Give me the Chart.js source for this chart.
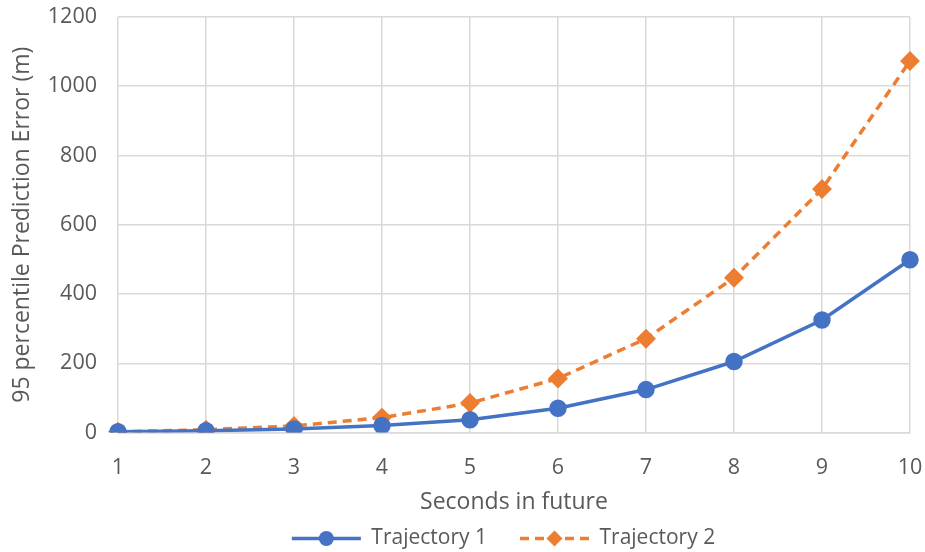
<!DOCTYPE html>
<html>
<head>
<meta charset="utf-8">
<script src="https://cdn.jsdelivr.net/npm/chart.js@4"></script>
<style>
  html, body { margin: 0; padding: 0; background: #fff; }
  #wrap { width: 925px; height: 552px; }
</style>
</head>
<body>
<div id="wrap"><canvas id="c" width="925" height="552"></canvas></div>
<script>
const seconds = ['1', '2', '3', '4', '5', '6', '7', '8', '9', '10'];
const trajectory1 = [2, 5, 10, 20, 37, 70, 124, 205, 325, 499];
const trajectory2 = [2, 8, 19, 43, 85, 156, 271, 447, 703, 1073];
const yTicks = [0, 200, 400, 600, 800, 1000, 1200];

const FONT = "'Open Sans', 'Liberation Sans', sans-serif";
const GREY = '#595959';

// legend sample: blank lead-in, then a 69px line with the marker centred on it
const LEGEND_LEAD = 29;
const LEGEND_LINE = 69;
const LEGEND_SHIFT = 34;

new Chart(document.getElementById('c'), {
  type: 'line',
  data: {
    labels: seconds,
    datasets: [
      {
        label: 'Trajectory 1',
        data: trajectory1,
        borderColor: '#4472C4',
        backgroundColor: '#4472C4',
        borderWidth: 3.5,
        pointStyle: 'circle',
        pointRadius: 7,
        pointHoverRadius: 7,
        tension: 0
      },
      {
        label: 'Trajectory 2',
        data: trajectory2,
        borderColor: '#ED7D31',
        backgroundColor: '#ED7D31',
        borderWidth: 3.5,
        borderDash: [9, 6],
        pointStyle: 'rectRot',
        pointRadius: 7.5,
        pointHoverRadius: 7.5,
        tension: 0
      }
    ]
  },
  options: {
    responsive: false,
    animation: false,
    layout: { padding: { top: 17, right: 15, left: 0, bottom: -7 } },
    plugins: {
      legend: {
        position: 'bottom',
        labels: {
          boxWidth: LEGEND_LEAD + LEGEND_LINE,
          boxHeight: 14,
          color: GREY,
          font: { family: FONT, size: 21 },
          padding: 4,
          generateLabels(chart) {
            return chart.data.datasets.map((ds, i) => ({
              text: ds.label,
              fillStyle: 'rgba(0,0,0,0)',
              strokeStyle: 'rgba(0,0,0,0)',
              lineWidth: 0,
              hidden: false,
              datasetIndex: i,
              fontColor: GREY
            }));
          }
        }
      },
      tooltip: { enabled: false }
    },
    scales: {
      x: {
        type: 'category',
        offset: false,
        grid: { color: '#d9d9d9', lineWidth: 1.5, drawTicks: false },
        border: { color: '#d9d9d9', width: 1.5 },
        ticks: { color: GREY, font: { family: FONT, size: 21.5 }, padding: 22, maxRotation: 0 },
        title: { display: true, text: 'Seconds in future', color: GREY, font: { family: FONT, size: 23 }, padding: { top: 0, bottom: 8 } },
        afterFit(axis) {
          axis.height = 91.5;
          axis.paddingLeft = 0;
          axis.paddingRight = 0;
        }
      },
      y: {
        min: 0,
        max: 1200,
        afterBuildTicks(axis) { axis.ticks = yTicks.map(v => ({ value: v })); },
        grid: { color: '#d9d9d9', lineWidth: 1.5, drawTicks: false },
        border: { display: false },
        ticks: { color: GREY, font: { family: FONT, size: 21.5 }, padding: 21, callback: v => String(v) },
        title: { display: true, text: '95 percentile Prediction Error (m)', color: GREY, font: { family: FONT, size: 23 }, padding: { top: 9, bottom: 0 } },
        afterFit(axis) {
          axis.width = 118;
          axis.paddingTop = 0;
          axis.paddingBottom = 0;
        }
      }
    }
  },
  plugins: [{
    id: 'legendLines',
    // nudge the legend row sideways so it sits under the plot
    afterLayout(chart) {
      const lg = chart.legend;
      if (!lg) return;
      lg.left += LEGEND_SHIFT;
      lg.right += LEGEND_SHIFT;
      (lg.legendHitBoxes || []).forEach(b => { b.left += LEGEND_SHIFT; });
    },
    // legend samples: a short line with the series marker in the middle
    afterDraw(chart) {
      const lg = chart.legend;
      if (!lg || !lg.legendHitBoxes) return;
      const ctx = chart.ctx;
      lg.legendHitBoxes.forEach((box, i) => {
        const ds = chart.data.datasets[i];
        const y = box.top + box.height / 2;
        const x1 = box.left + LEGEND_LEAD, x2 = x1 + LEGEND_LINE;
        const cx = (x1 + x2) / 2;
        ctx.save();
        ctx.strokeStyle = ds.borderColor;
        ctx.lineWidth = 3.5;
        ctx.setLineDash(ds.borderDash || []);
        ctx.beginPath(); ctx.moveTo(x1, y); ctx.lineTo(x2, y); ctx.stroke();
        ctx.setLineDash([]);
        ctx.fillStyle = ds.backgroundColor;
        ctx.beginPath();
        if (ds.pointStyle === 'circle') {
          ctx.arc(cx, y, 7.5, 0, Math.PI * 2);
        } else {
          ctx.moveTo(cx, y - 8); ctx.lineTo(cx + 8, y); ctx.lineTo(cx, y + 8); ctx.lineTo(cx - 8, y); ctx.closePath();
        }
        ctx.fill();
        ctx.restore();
      });
    }
  }]
});
</script>
</body>
</html>
